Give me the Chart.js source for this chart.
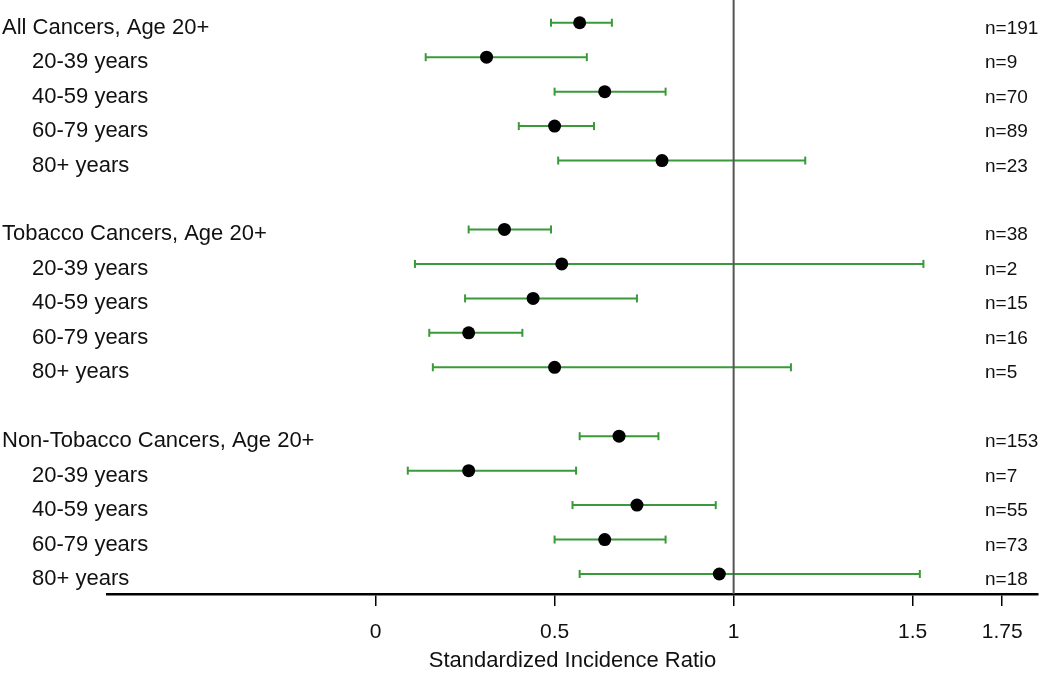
<!DOCTYPE html>
<html>
<head>
<meta charset="utf-8">
<script src="https://cdn.jsdelivr.net/npm/chart.js"></script>
<style>
  body { margin: 0; background: #fff; }
  #wrap { width: 1050px; height: 674px; position: relative; }
</style>
</head>
<body>
<div id="wrap"><canvas id="sirChart"></canvas></div>
<script>
// rows of the forest plot (gaps at 5 and 11 separate the groups)
const rowLabels = [
  "All Cancers, Age 20+", "20-39 years", "40-59 years", "60-79 years", "80+ years",
  "Tobacco Cancers, Age 20+", "20-39 years", "40-59 years", "60-79 years", "80+ years",
  "Non-Tobacco Cancers, Age 20+", "20-39 years", "40-59 years", "60-79 years", "80+ years"
];
const rowPos = [0, 1, 2, 3, 4, 6, 7, 8, 9, 10, 12, 13, 14, 15, 16];
const isHeader = [1, 0, 0, 0, 0, 1, 0, 0, 0, 0, 1, 0, 0, 0, 0];
const sir = [0.57, 0.31, 0.64, 0.50, 0.80, 0.36, 0.52, 0.44, 0.26, 0.50, 0.68, 0.26, 0.73, 0.64, 0.96];
const ciLow = [0.49, 0.14, 0.50, 0.40, 0.51, 0.26, 0.11, 0.25, 0.15, 0.16, 0.57, 0.09, 0.55, 0.50, 0.57];
const ciHigh = [0.66, 0.59, 0.81, 0.61, 1.20, 0.49, 1.53, 0.73, 0.41, 1.16, 0.79, 0.56, 0.95, 0.81, 1.52];
const counts = ["n=191", "n=9", "n=70", "n=89", "n=23", "n=38", "n=2", "n=15", "n=16", "n=5",
                "n=153", "n=7", "n=55", "n=73", "n=18"];
const xTicks = [0, 0.5, 1, 1.5, 1.75];

const Y_MIN = -0.66, Y_MAX = 16.58;
const green = "#3a9a3a";

// one small line dataset per confidence interval, with vertical caps
const ciSets = rowPos.map((p, i) => ({
  type: "line",
  data: [{ x: ciLow[i], y: p }, { x: ciHigh[i], y: p }],
  borderColor: green,
  borderWidth: 2,
  pointStyle: "line",
  pointRotation: 90,
  pointRadius: 4,
  pointBorderWidth: 2,
  pointBorderColor: green,
  pointBackgroundColor: green,
  order: 2
}));

// left labels and right counts
const textPlugin = {
  id: "rowText",
  afterDraw(chart) {
    const ctx = chart.ctx;
    const y = chart.scales.y;
    ctx.save();
    ctx.fillStyle = "#111";
    ctx.textBaseline = "alphabetic";
    rowPos.forEach((p, i) => {
      const py = y.getPixelForValue(p) + 11;
      ctx.font = "22px 'Liberation Sans', Arial, sans-serif";
      ctx.textAlign = "left";
      ctx.fillText(rowLabels[i], isHeader[i] ? 2 : 32, py);
      ctx.font = "19px 'Liberation Sans', Arial, sans-serif";
      ctx.fillText(counts[i], 985, py);
    });
    ctx.restore();
  }
};

new Chart(document.getElementById("sirChart"), {
  type: "scatter",
  data: {
    datasets: [
      {
        data: rowPos.map((p, i) => ({ x: sir[i], y: p })),
        backgroundColor: "#000",
        borderColor: "#000",
        borderWidth: 0,
        pointRadius: 6.5,
        order: 0
      },
      ...ciSets,
      {
        type: "line",
        data: [{ x: 1, y: Y_MIN }, { x: 1, y: Y_MAX }],
        borderColor: "#555",
        borderWidth: 2,
        pointRadius: 0,
        order: 1
      }
    ]
  },
  options: {
    responsive: true,
    maintainAspectRatio: false,
    animation: false,
    layout: { autoPadding: false, padding: { left: 107, right: 12, top: 0, bottom: 0 } },
    plugins: { legend: { display: false }, tooltip: { enabled: false } },
    scales: {
      y: { type: "linear", min: Y_MIN, max: Y_MAX, reverse: true, display: false },
      x: {
        type: "linear",
        min: -0.75,
        max: 1.85,
        afterBuildTicks(scale) { scale.ticks = xTicks.map(v => ({ value: v })); },
        afterFit(scale) { scale.height = 80; },
        grid: { drawOnChartArea: false, drawTicks: true, tickLength: 12, color: "#000", lineWidth: 1.5 },
        border: { display: true, color: "#000", width: 2.5 },
        ticks: {
          font: { size: 21, family: "'Liberation Sans', Arial, sans-serif" },
          color: "#111",
          padding: 14,
          maxRotation: 0,
          callback: v => String(v)
        },
        title: {
          display: true,
          text: "Standardized Incidence Ratio",
          font: { size: 22, family: "'Liberation Sans', Arial, sans-serif" },
          color: "#111",
          padding: { top: 0, bottom: 0 }
        }
      }
    }
  },
  plugins: [textPlugin]
});
</script>
</body>
</html>
